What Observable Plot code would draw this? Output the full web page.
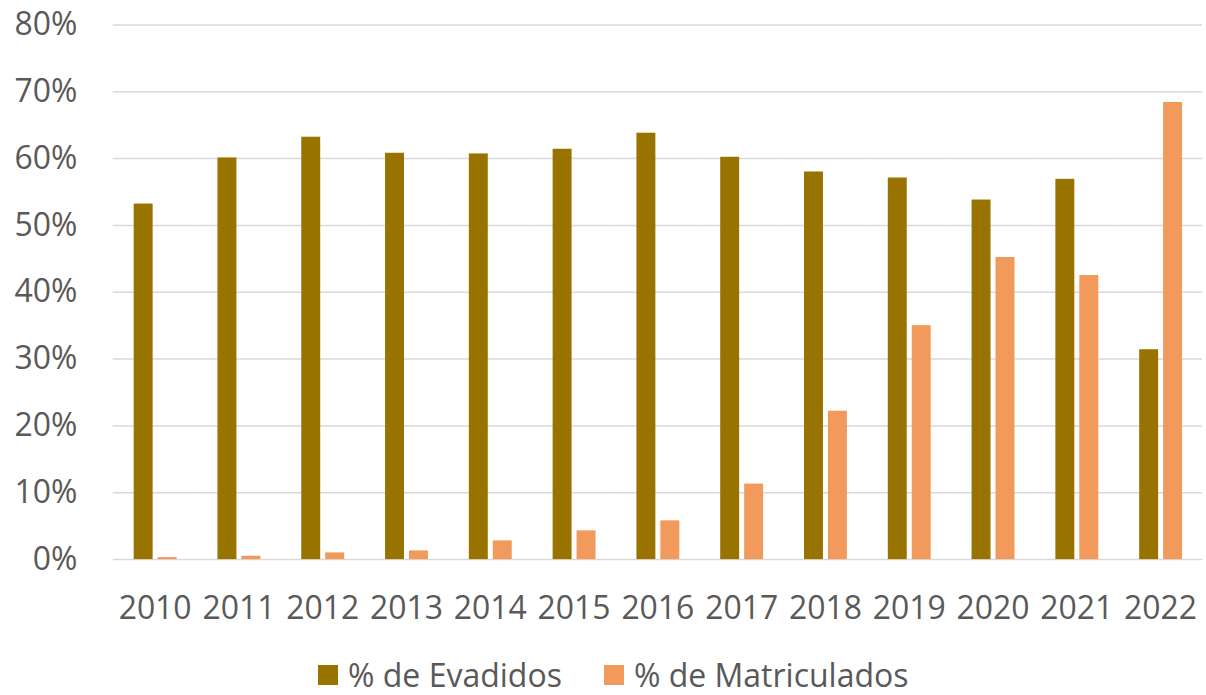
<!DOCTYPE html>
<html>
<head>
<meta charset="utf-8">
<script src="https://cdn.jsdelivr.net/npm/d3@7"></script>
<script src="https://cdn.jsdelivr.net/npm/@observablehq/plot@0.6"></script>
<style>
  body { margin: 0; background: #fff; font-family: "Open Sans", sans-serif; overflow: hidden; }
  #chart svg { display: block; }
  #legend { display: flex; align-items: center; padding-left: 318px; margin-top: 19px; height: 36px; line-height: 36px; font-size: 32px; color: #595959; }
  .item { display: flex; align-items: center; margin-right: 42px; }
  .sw { width: 20px; height: 20px; margin-right: 10px; }
</style>
</head>
<body>
<div id="chart"></div>
<div id="legend"></div>
<script>
const years = ["2010","2011","2012","2013","2014","2015","2016","2017","2018","2019","2020","2021","2022"];
const seriesNames = ["% de Evadidos", "% de Matriculados"];
const evadidos = [53.2, 60.1, 63.2, 60.8, 60.7, 61.4, 63.8, 60.2, 58.0, 57.1, 53.8, 56.9, 31.4];
const matriculados = [0.3, 0.5, 1.0, 1.3, 2.8, 4.3, 5.8, 11.3, 22.2, 35.0, 45.2, 42.5, 68.4];
const colors = ["#997300", "#F19A5C"];
const yTicks = [0, 10, 20, 30, 40, 50, 60, 70, 80];

const data = [];
years.forEach((y, i) => {
  data.push({year: y, series: seriesNames[0], value: evadidos[i]});
  data.push({year: y, series: seriesNames[1], value: matriculados[i]});
});

const chart = Plot.plot({
  width: 1209,
  height: 640,
  marginLeft: 109,
  marginRight: 0,
  marginTop: 24.5,
  marginBottom: 79.5,
  style: {fontSize: "32px", fontFamily: "Open Sans", color: "#595959", background: "#fff", overflow: "visible"},
  fx: {domain: years, padding: 0, label: null, tickSize: 0, tickPadding: 37},
  x: {domain: seriesNames, axis: null, paddingInner: 0.21, paddingOuter: 0.85},
  y: {domain: [0, 80], ticks: yTicks, tickFormat: d => d + "%", tickSize: 0, tickPadding: 36, label: null},
  color: {domain: seriesNames, range: colors},
  marks: [
    Plot.ruleY(yTicks, {stroke: "#D9D9D9", strokeWidth: 1.5}),
    Plot.barY(data, {fx: "year", x: "series", y: "value", fill: "series"})
  ]
});
document.getElementById("chart").appendChild(chart);

const legend = document.getElementById("legend");
seriesNames.forEach((s, i) => {
  const it = document.createElement("div");
  it.className = "item";
  const sw = document.createElement("div");
  sw.className = "sw";
  sw.style.background = colors[i];
  const t = document.createElement("span");
  t.textContent = s;
  it.appendChild(sw); it.appendChild(t);
  legend.appendChild(it);
});
</script>
</body>
</html>
